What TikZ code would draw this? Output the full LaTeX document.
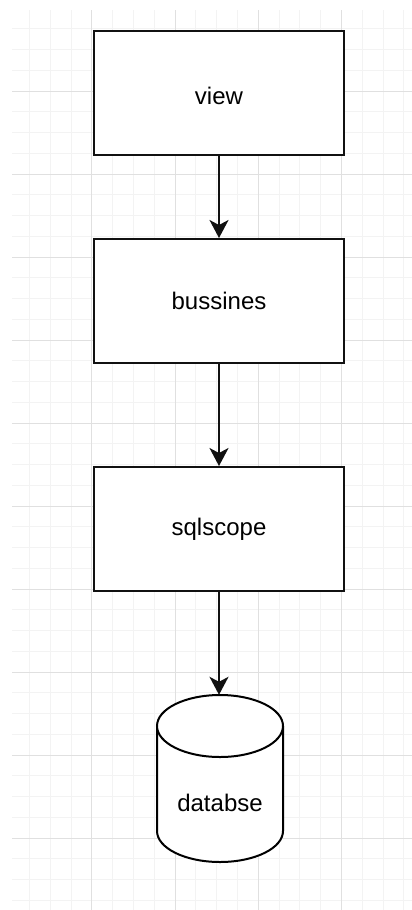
\documentclass[tikz,border=0pt]{standalone}
\usepackage{fontspec}
\setmainfont{Liberation Sans}
\usetikzlibrary{arrows.meta}
\definecolor{gridminor}{HTML}{F3F3F3}
\definecolor{gridmajor}{HTML}{E0E0E0}
\definecolor{stroke}{HTML}{111111}
\tikzset{
  layer/.style={draw=stroke, line width=2pt, fill=white, minimum width=250pt,
    minimum height=124pt, inner sep=0pt, font=\fontsize{24}{28}\selectfont},
  flow/.style={draw=stroke, line width=2pt,
    -{Stealth[length=18pt, width=19pt, inset=5pt]}},
}
\begin{document}
\begin{tikzpicture}[x=1pt, y=-1pt]
  \useasboundingbox (0,0) rectangle (412,910);
  \fill[white] (0,0) rectangle (412,910);
  % background grid: minor every quarter of a major cell
  \begin{scope}
    \clip (12,10) rectangle (412,910);
    \foreach \i in {0,...,20} {
      \draw[gridminor, line width=1pt] ({8.7+20.8*\i},0) -- ++(0,910);
    }
    \foreach \i in {0,...,44} {
      \draw[gridminor, line width=1pt] (0,{8+20.75*\i}) -- ++(412,0);
    }
    \foreach \i in {0,...,5} {
      \draw[gridmajor, line width=1pt] ({8.7+83.2*\i},0) -- ++(0,910);
    }
    \foreach \i in {0,...,11} {
      \draw[gridmajor, line width=1pt] (0,{8+83*\i}) -- ++(412,0);
    }
  \end{scope}

  % layers
  \node[layer] (view) at (219,93) {};
  \node[font=\fontsize{24}{28}\selectfont] (viewlabel) at (219,96) {view};
  \node[layer] (biz) at (219,301) {bussines};
  \node[layer] (sql) at (219,529) {sqlscope};

  % database cylinder
  \node[minimum width=126pt, minimum height=167pt, inner sep=0pt] (db) at (220,778.5) {};
  \draw[stroke, line width=2pt, fill=white]
    (157,726) -- (157,831) arc[start angle=180, end angle=360, x radius=63pt, y radius=31pt]
    -- (283,726);
  \draw[stroke, line width=2pt, fill=white] (220,726) ellipse[x radius=63pt, y radius=31pt];
  \node[font=\fontsize{24}{28}\selectfont] (dblabel) at (220,803) {databse};

  % connectors
  \draw[flow] (view) -- (biz);
  \draw[flow] (biz) -- (sql);
  \draw[flow] (sql.south) -- (sql.south |- db.north);
\end{tikzpicture}
\end{document}
